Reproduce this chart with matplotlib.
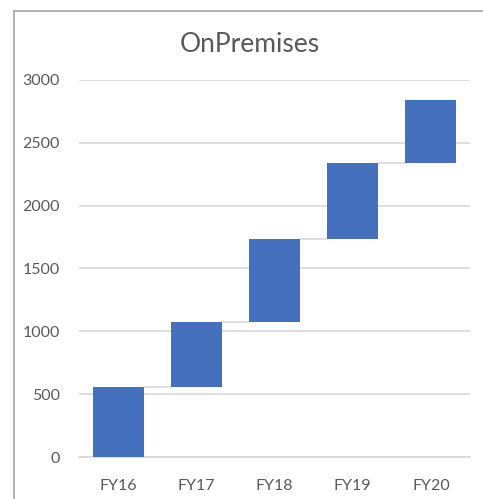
import matplotlib

matplotlib.use("Agg")
import matplotlib.pyplot as plt
from matplotlib.lines import Line2D

# waterfall data: yearly increments, bars stack from the running total
years = ["FY16", "FY17", "FY18", "FY19", "FY20"]
increments = [560, 515, 660, 605, 500]
yticks = [0, 500, 1000, 1500, 2000, 2500, 3000]

BLUE = "#4570BE"
GRID = "#d9d9d9"
TEXT = "#595959"

plt.rcParams["font.family"] = ["Lato", "DejaVu Sans"]

fig = plt.figure(figsize=(4.83, 4.99), dpi=100)
ax = fig.add_axes([0.164, 0.084, 0.809, 0.756])

bottoms = []
total = 0
for inc in increments:
    bottoms.append(total)
    total += inc
tops = [b + v for b, v in zip(bottoms, increments)]

x = list(range(len(years)))
width = 0.65
ax.bar(x, increments, bottom=bottoms, width=width, color=BLUE, zorder=3)

# connector lines from each bar's top to the next bar's bottom
for i in range(len(years) - 1):
    ax.plot([x[i] + width / 2, x[i + 1] - width / 2], [tops[i], tops[i]],
            color=GRID, lw=1.2, zorder=2)

ax.set_xlim(-0.5, len(years) - 0.5)
ax.set_ylim(0, 3000)
ax.set_yticks(yticks)
ax.set_xticks(x)
ax.set_xticklabels(years)
ax.yaxis.grid(True, color=GRID, lw=1.2, zorder=0)
ax.set_axisbelow(True)
for side in ("top", "right", "left"):
    ax.spines[side].set_visible(False)
ax.spines["bottom"].set_color(GRID)
ax.spines["bottom"].set_linewidth(1.2)
ax.tick_params(axis="both", length=0, labelsize=11.5, colors=TEXT)
ax.tick_params(axis="x", pad=16)
ax.tick_params(axis="y", pad=14)

fig.text(0.517, 0.91, "OnPremises", ha="center", va="center",
         fontsize=19, color=TEXT)

# outer chart frame (left and top edges visible in the screenshot)
fig.add_artist(Line2D([14 / 483, 14 / 483], [0, 1 - 11 / 499],
                      transform=fig.transFigure, color="#a6a6a6", lw=1.2))
fig.add_artist(Line2D([14 / 483, 1], [1 - 11 / 499, 1 - 11 / 499],
                      transform=fig.transFigure, color="#a6a6a6", lw=1.2))

fig.savefig("out.png", dpi=100)
